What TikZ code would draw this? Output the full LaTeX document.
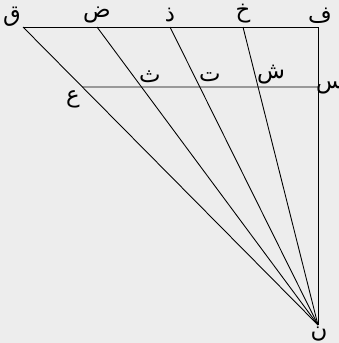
\documentclass[tikz,border=0pt]{standalone}
\usepackage{fontspec}
\newfontfamily\arabicfont[Script=Arabic]{DejaVu Sans}
\TeXXeTstate=1
\usetikzlibrary{calc}

\tikzset{lbl/.style={font=\arabicfont\fontsize{13}{15}\selectfont,inner sep=1pt}}

\begin{document}
\begin{tikzpicture}[x=0.02cm,y=-0.02cm]
           \fill[black!7] (0,0) rectangle (339,343);
           \useasboundingbox (0,0) rectangle (339,343);

           \coordinate (Q) at (23,27);
           \coordinate (D) at (97,27);
           \coordinate (Dh) at (170,27);
           \coordinate (Kh) at (243,27);
           \coordinate (F) at (318,27);
           \coordinate (N) at (318,325);
           \coordinate (S) at (318,87);
           \coordinate (A) at ($(Q)!0.2013!(N)$);
           \coordinate (Th) at ($(D)!0.2013!(N)$);
           \coordinate (T) at ($(Dh)!0.2013!(N)$);
           \coordinate (Sh) at ($(Kh)!0.2013!(N)$);

           \draw[line width=0.5pt] (Q) -- (F) -- (N);
           \draw[line width=0.5pt] (Q) -- (N);
           \draw[line width=0.5pt] (D) -- (N);
           \draw[line width=0.5pt] (Dh) -- (N);
           \draw[line width=0.5pt] (Kh) -- (N);
           \draw[line width=0.5pt] (A) -- (S);

           \node[lbl] (lQ) at (12,17) {\beginR ق\endR};
           \node[lbl] (lD) at (97,15) {\beginR ض\endR};
           \node[lbl] (lDh) at (170,15) {\beginR ذ\endR};
           \node[lbl] (lKh) at (243,14) {\beginR خ\endR};
           \node[lbl] (lF) at (320,16) {\beginR ف\endR};
           \node[lbl] (lS) at (330,87) {\beginR س\endR};
           \node[lbl] (lSh) at (271,75) {\beginR ش\endR};
           \node[lbl] (lT) at (210,77) {\beginR ت\endR};
           \node[lbl] (lTh) at (150,77) {\beginR ث\endR};
           \node[lbl] (lA) at (73,99) {\beginR ع\endR};
           \node[lbl] (lN) at (319,334) {\beginR ن\endR};
         \end{tikzpicture}
\end{document}
